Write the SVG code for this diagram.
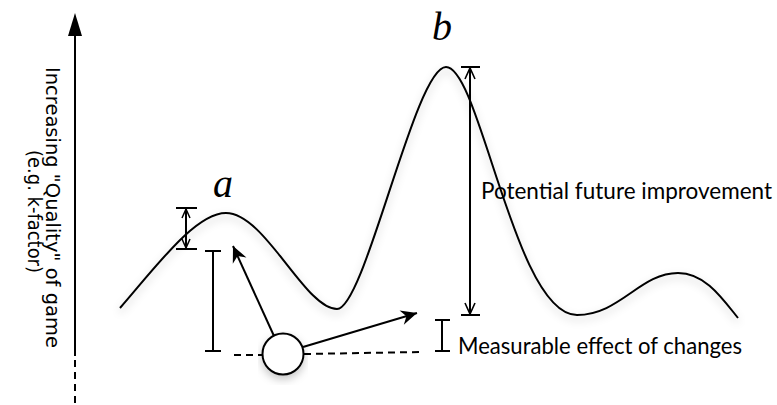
<svg xmlns="http://www.w3.org/2000/svg" width="777" height="405" viewBox="0 0 777 405">
  <style>
    .ln { stroke: #000; stroke-width: 2; fill: none; }
    .dash { stroke: #000; stroke-width: 2; fill: none; stroke-dasharray: 7 5; }
    .lbl { font-family: "Lato", "Liberation Sans", sans-serif; fill: #000; }
    .ax { font-family: "DejaVu Sans", "Liberation Sans", sans-serif; font-size: 20px; fill: #000; }
    .math { font-family: "Liberation Serif", serif; font-style: italic; font-size: 40px; fill: #000; }
  </style>
  <defs>
    <filter id="sh" x="-10%" y="-15%" width="120%" height="140%">
      <feGaussianBlur in="SourceAlpha" stdDeviation="4"/>
      <feOffset dy="4" result="b"/>
      <feFlood flood-color="#000" flood-opacity="0.22"/>
      <feComposite in2="b" operator="in"/>
      <feMerge><feMergeNode/><feMergeNode in="SourceGraphic"/></feMerge>
    </filter>
    <marker id="fa" viewBox="-17 -8 18 16" markerWidth="18" markerHeight="16" refX="0" refY="0" orient="auto" markerUnits="userSpaceOnUse">
      <path d="M0,0 L-16,-7.5 L-11,0 L-16,7.5 Z" fill="#000"/>
    </marker>
    <marker id="va" viewBox="-13 -7 15 14" markerWidth="15" markerHeight="14" refX="0" refY="0" orient="auto-start-reverse" markerUnits="userSpaceOnUse">
      <path d="M-11,-5 L0,0 L-11,5" fill="none" stroke="#000" stroke-width="1.6"/>
    </marker>
    <marker id="vs" viewBox="-11 -6 13 12" markerWidth="13" markerHeight="12" refX="0" refY="0" orient="auto-start-reverse" markerUnits="userSpaceOnUse">
      <path d="M-9,-4 L0,0 L-9,4" fill="none" stroke="#000" stroke-width="1.5"/>
    </marker>
  </defs>

  <g id="axis">
    <line class="ln" x1="75" y1="34" x2="75" y2="356"/>
    <line class="dash" x1="75" y1="360" x2="75" y2="405" stroke-dasharray="7 7"/>
    <path d="M75,13 L68,36 L82,36 Z" fill="#000"/>
    <text class="ax" transform="translate(45.5,67) rotate(90)" textLength="281" lengthAdjust="spacingAndGlyphs">Increasing "Quality" of game</text>
    <text class="ax" transform="translate(28,150) rotate(90)" textLength="123" lengthAdjust="spacingAndGlyphs">(e.g. k-factor)</text>
  </g>

  <g id="curve">
    <path class="ln" filter="url(#sh)" d="M120,308 C155,268 195,213 226,213 C265,213 305,309 337,309 C365,309 415,67 446,67 C480,67 515,315 577,315 C620,315 640,273 678,273 C705,273 722,298 738,318"/>
  </g>

  <g id="label-a">
    <text class="math" x="223" y="197" text-anchor="middle">a</text>
  </g>
  <g id="label-b">
    <text class="math" x="442" y="40" text-anchor="middle">b</text>
  </g>

  <g id="potential-improvement">
    <line class="ln" x1="461" y1="67" x2="480" y2="67"/>
    <line class="ln" x1="461" y1="315" x2="480" y2="315"/>
    <text class="lbl" x="481" y="199" font-size="23" textLength="291" lengthAdjust="spacingAndGlyphs">Potential future improvement</text>
  </g>

  <g id="measurable-effect">
    <line class="ln" x1="442" y1="320" x2="442" y2="351"/>
    <line class="ln" x1="435" y1="320" x2="450" y2="320"/>
    <line class="ln" x1="435" y1="351" x2="450" y2="351"/>
    <text class="lbl" x="458" y="354" font-size="24" textLength="284" lengthAdjust="spacingAndGlyphs">Measurable effect of changes</text>
  </g>

  <g id="gap-a">
    <line class="ln" x1="176" y1="208" x2="197" y2="208"/>
    <line class="ln" x1="176" y1="249" x2="197" y2="249"/>
  </g>

  <g id="height-bar">
    <line class="ln" x1="213" y1="251" x2="213" y2="351"/>
    <line class="ln" x1="205" y1="251" x2="221" y2="251"/>
    <line class="ln" x1="205" y1="351" x2="221" y2="351"/>
  </g>

  <g id="current-game">
    <circle cx="283" cy="354" r="20.5" fill="#fff" stroke="#000" stroke-width="2" filter="url(#sh)"/>
  </g>

  <g id="connectors">
    <line class="ln" x1="186" y1="209" x2="186" y2="248" marker-start="url(#vs)" marker-end="url(#vs)"/>
    <line class="ln" x1="470" y1="68" x2="470" y2="314" marker-start="url(#va)" marker-end="url(#va)"/>
    <line class="ln" x1="274" y1="336" x2="233" y2="246" marker-end="url(#fa)"/>
    <line class="ln" x1="303" y1="347" x2="417" y2="313" marker-end="url(#fa)"/>
    <line class="dash" x1="234" y1="355" x2="263" y2="355"/>
    <line class="dash" x1="304" y1="354" x2="420" y2="352"/>
  </g>
</svg>
